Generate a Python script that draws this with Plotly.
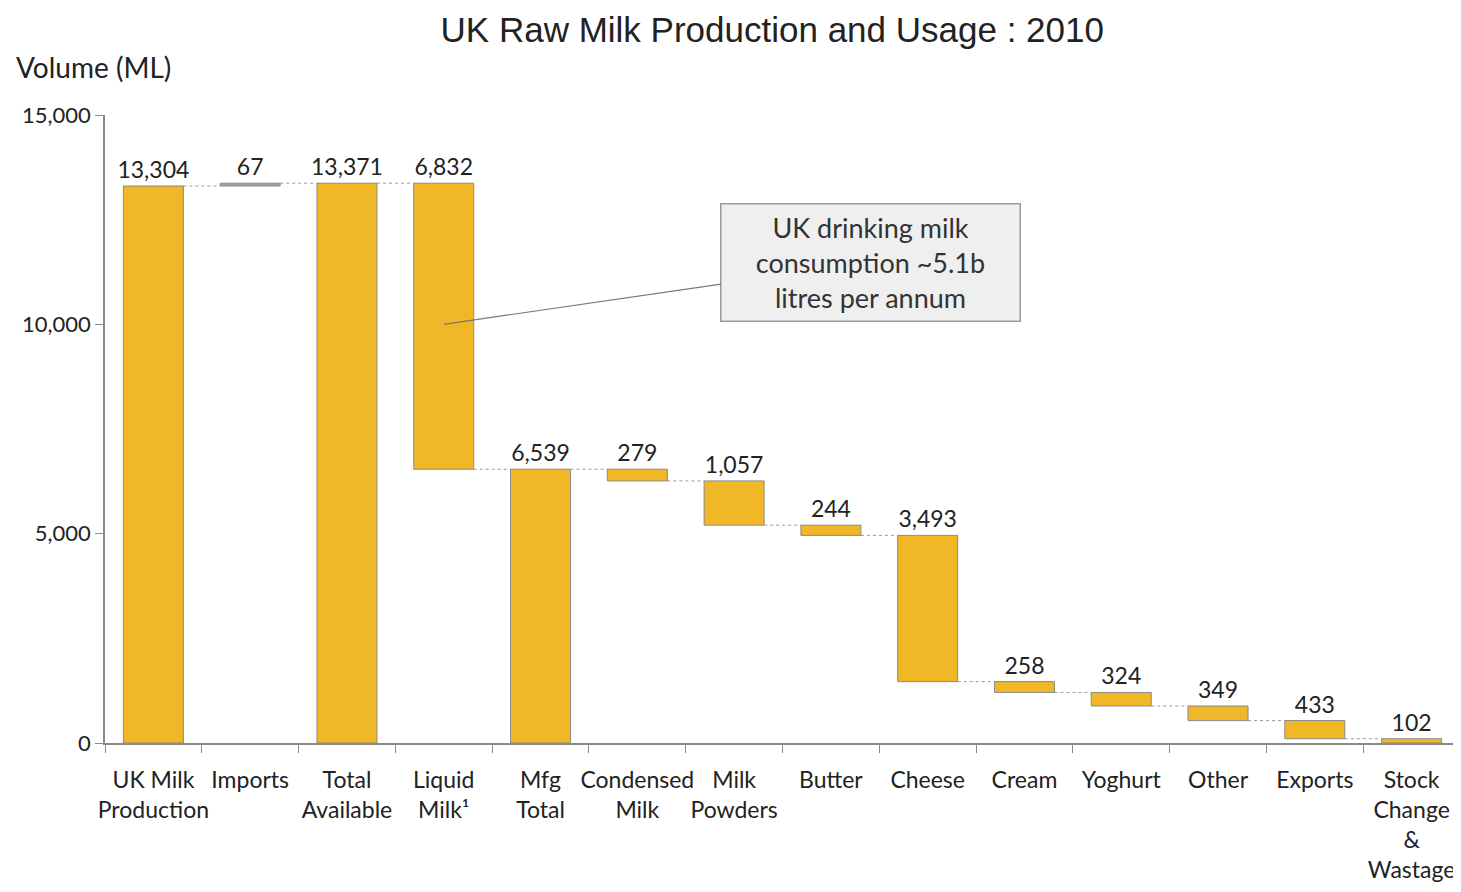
import plotly.graph_objects as go

categories = ["UK Milk<br>Production", "Imports", "Total<br>Available", "Liquid<br>Milk¹",
              "Mfg<br>Total", "Condensed<br>Milk", "Milk<br>Powders", "Butter", "Cheese",
              "Cream", "Yoghurt", "Other", "Exports", "Stock<br>Change<br>&amp;<br>Wastage"]
values = [13304, 67, 13371, 6832, 6539, 279, 1057, 244, 3493, 258, 324, 349, 433, 102]
kinds = ["total", "increase", "total", "decrease", "total", "decrease", "decrease",
         "decrease", "decrease", "decrease", "decrease", "decrease", "decrease", "decrease"]
y_ticks = [0, 5000, 10000, 15000]

YELLOW = "#F0B727"
GREY = "#A3A3A3"
FONT = "Lato, Open Sans, sans-serif"

bases, levels = [], []
level = 0
for v, k in zip(values, kinds):
    if k == "total":
        bases.append(0)
        level = v
    elif k == "increase":
        bases.append(level)
        level += v
    else:
        level -= v
        bases.append(level)
    levels.append(level)

colors = [GREY if k == "increase" else YELLOW for k in kinds]
labels = [f"{v:,}" for v in values]

fig = go.Figure()
fig.add_trace(go.Bar(
    x=categories, y=values, base=bases, width=0.62,
    marker=dict(color=colors, line=dict(color="#8a8a8a", width=1)),
    text=labels, textposition="outside", cliponaxis=False, constraintext="none",
    textfont=dict(family=FONT, size=23, color="#222"),
    showlegend=False, hoverinfo="skip",
))

half = 0.31
for i in range(len(values) - 1):
    fig.add_shape(type="line", xref="x", yref="y",
                  x0=i + half, x1=i + 1 - half, y0=levels[i], y1=levels[i],
                  line=dict(color="#9a9a9a", width=1, dash="dot"), layer="below")

fig.add_annotation(
    x=categories[3], y=10000, xref="x", yref="y",
    text="UK drinking milk<br>consumption ~5.1b<br>litres per annum",
    showarrow=True, arrowhead=0, arrowwidth=1.2, arrowcolor="#777",
    ax=427, ay=-62,
    bgcolor="#EFEFEF", bordercolor="#9a9a9a", borderwidth=1.5, borderpad=4,
    width=290, height=108,
    font=dict(family=FONT, size=27, color="#333"),
)

fig.add_annotation(
    x=0, y=1, xref="paper", yref="paper", xshift=-91, yshift=48,
    xanchor="left", yanchor="middle", showarrow=False,
    text="Volume (ML)",
    font=dict(family=FONT, size=28, color="#222"),
)

fig.update_layout(
    width=1453, height=884,
    paper_bgcolor="white", plot_bgcolor="white",
    margin=dict(l=97, r=1, t=107, b=149),
    title=dict(text="UK Raw Milk Production and Usage : 2010", x=0.526, xanchor="center",
               y=0.975, yanchor="middle",
               font=dict(family="Liberation Sans, Arial, sans-serif", size=35, color="#222")),
    bargap=0.38,
    xaxis=dict(type="category", showline=True, linecolor="#8a8a8a", linewidth=1.5,
               ticks="outside", tickson="boundaries", ticklen=8, tickcolor="#8a8a8a",
               showgrid=False, tickangle=0, automargin=False, ticklabelstandoff=16,
               tickfont=dict(family=FONT, size=23, color="#222")),
    yaxis=dict(range=[0, 15000], tickvals=y_ticks, tickformat=",", showgrid=False,
               showline=True, linecolor="#8a8a8a", linewidth=1.5, ticks="outside",
               ticklen=8, tickcolor="#8a8a8a", zeroline=False, automargin=False,
               tickfont=dict(family=FONT, size=22, color="#222")),
)

fig.write_html("out.html")
